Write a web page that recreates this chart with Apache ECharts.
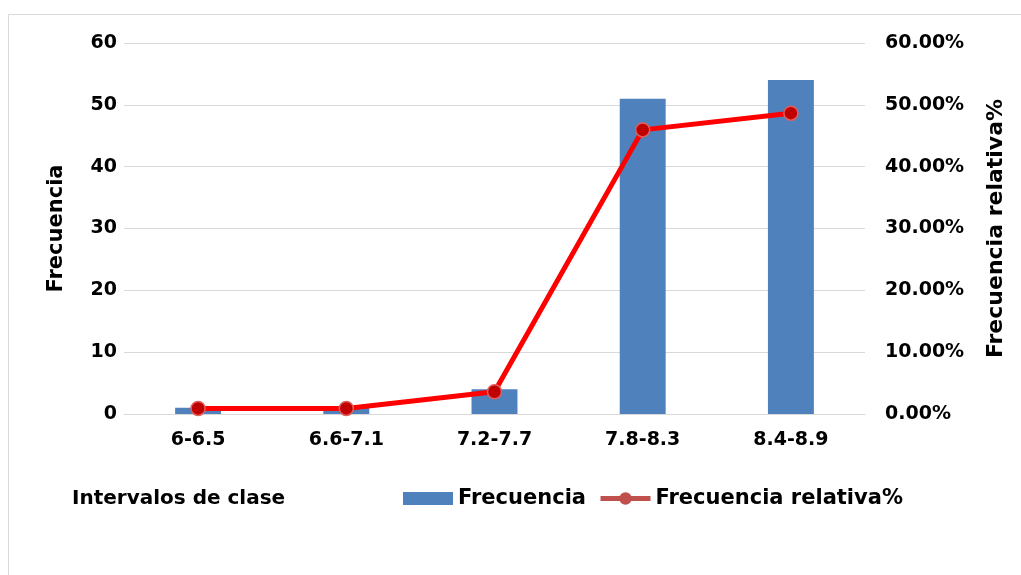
<!DOCTYPE html>
<html>
<head>
<meta charset="utf-8">
<script src="https://cdn.jsdelivr.net/npm/echarts@6/dist/echarts.min.js"></script>
<style>
  html, body { margin: 0; padding: 0; background: #fff; }
  #chart { width: 1021px; height: 575px; }
</style>
</head>
<body>
<div id="chart"></div>
<script>
// Class intervals and absolute frequencies
const categories = ['6-6.5', '6.6-7.1', '7.2-7.7', '7.8-8.3', '8.4-8.9'];
const frecuencia = [1, 1, 4, 51, 54];
// Relative frequency in percent (count / total)
const frecuenciaRelativa = [0.90, 0.90, 3.60, 45.95, 48.65];
const leftTicks = [0, 10, 20, 30, 40, 50, 60];
const rightTicks = [0, 10, 20, 30, 40, 50, 60];

const FONT = '"DejaVu Sans", "Liberation Sans", Arial, sans-serif';
const chart = echarts.init(document.getElementById('chart'), null, { renderer: 'canvas' });

chart.setOption({
  backgroundColor: '#ffffff',
  animation: false,
  textStyle: { fontFamily: FONT },
  title: {
    text: 'Intervalos de clase',
    left: 67, top: 484,
    textStyle: { fontFamily: FONT, fontWeight: 'bold', fontSize: 20, color: '#000' }
  },
  graphic: [{
    type: 'rect',
    shape: { x: 8.5, y: 14.5, width: 1030, height: 600 },
    style: { fill: 'none', stroke: '#D9D9D9', lineWidth: 1 },
    silent: true, z: -10
  }],
  legend: {
    left: 398, top: 483,
    itemGap: 12,
    itemWidth: 50, itemHeight: 13,
    textStyle: { fontFamily: FONT, fontWeight: 'bold', fontSize: 21, color: '#000' },
    data: [
      { name: 'Frecuencia', icon: 'rect' },
      {
        name: 'Frecuencia relativa%',
        itemStyle: { color: '#C0504D', borderColor: '#C0504D' },
        lineStyle: { color: '#C0504D', width: 5 }
      }
    ]
  },
  grid: { left: 124, right: 156, top: 43, bottom: 161, containLabel: false },
  xAxis: {
    type: 'category',
    data: categories,
    axisLine: { lineStyle: { color: '#D9D9D9', width: 1 } },
    axisTick: { show: false },
    axisLabel: {
      fontFamily: FONT, fontWeight: 'bold', fontSize: 19, color: '#000', margin: 17
    }
  },
  yAxis: [
    {
      type: 'value', min: 0, max: 60, interval: 10,
      name: 'Frecuencia',
      nameLocation: 'middle', nameRotate: 90, nameGap: 57,
      nameTextStyle: { fontFamily: FONT, fontWeight: 'bold', fontSize: 21, color: '#000' },
      axisLine: { show: false }, axisTick: { show: false },
      axisLabel: {
        fontFamily: FONT, fontWeight: 'bold', fontSize: 19, color: '#000', margin: 7,
        formatter: v => leftTicks.includes(v) ? String(v) : ''
      },
      splitLine: { lineStyle: { color: '#D9D9D9', width: 1 } }
    },
    {
      type: 'value', min: 0, max: 60, interval: 10,
      name: 'Frecuencia relativa%',
      nameLocation: 'middle', nameRotate: 90, nameGap: 120,
      nameTextStyle: { fontFamily: FONT, fontWeight: 'bold', fontSize: 22, color: '#000' },
      axisLine: { show: false }, axisTick: { show: false },
      axisLabel: {
        fontFamily: FONT, fontWeight: 'bold', fontSize: 19, color: '#000', margin: 20,
        formatter: v => rightTicks.includes(v) ? v.toFixed(2) + '%' : ''
      },
      splitLine: { show: false }
    }
  ],
  series: [
    {
      name: 'Frecuencia',
      type: 'bar',
      yAxisIndex: 0,
      data: frecuencia,
      barWidth: '31%',
      itemStyle: { color: '#4F81BD' }
    },
    {
      name: 'Frecuencia relativa%',
      type: 'line',
      yAxisIndex: 1,
      data: frecuenciaRelativa,
      symbol: 'circle',
      symbolSize: 14,
      lineStyle: { color: '#FF0000', width: 5 },
      itemStyle: { color: '#C00000', borderColor: '#E0605C', borderWidth: 1.5 },
      z: 5
    }
  ]
});
</script>
</body>
</html>
